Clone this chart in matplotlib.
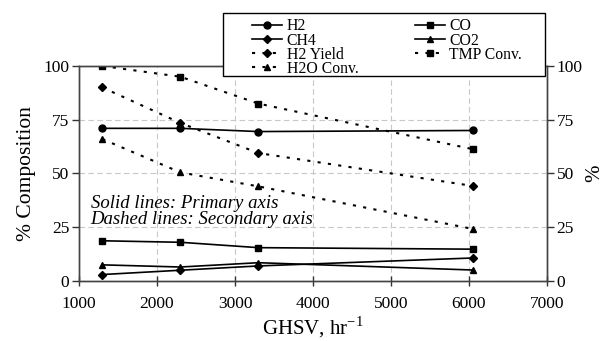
import matplotlib.pyplot as plt
from matplotlib.lines import Line2D
from matplotlib.patches import Rectangle

plt.rcParams['font.family'] = ['Liberation Serif', 'DejaVu Serif']

ghsv = [1300, 2300, 3300, 6050]

# primary axis (% composition)
h2 = [71, 71, 69.5, 70]
co = [18.7, 18, 15.5, 14.8]
ch4 = [3, 5, 7, 10.7]
co2 = [7.5, 6.5, 8.5, 5.1]

# secondary axis (%)
h2_yield = [90, 73.5, 59.5, 44.2]
tmp_conv = [100, 95, 82.5, 61.3]
h2o_conv = [66, 50.5, 44, 24.2]

dot = (0, (1.5, 3.5))

fig = plt.figure(figsize=(6.05, 3.41), dpi=100)
ax = fig.add_axes([0.1306, 0.176, 0.7735, 0.6305])
ax2 = ax.twinx()

ax.plot(ghsv, h2, color='k', lw=1.2, marker='o', ms=5)
ax.plot(ghsv, co, color='k', lw=1.2, marker='s', ms=5)
ax.plot(ghsv, ch4, color='k', lw=1.2, marker='D', ms=4)
ax.plot(ghsv, co2, color='k', lw=1.2, marker='^', ms=5)

ax2.plot(ghsv, h2_yield, color='k', lw=1.5, ls=dot, marker='D', ms=4)
ax2.plot(ghsv, tmp_conv, color='k', lw=1.5, ls=dot, marker='s', ms=5)
ax2.plot(ghsv, h2o_conv, color='k', lw=1.5, ls=dot, marker='^', ms=5)

ax.set_xlim(1000, 7000)
ax.set_ylim(0, 100)
ax2.set_ylim(0, 100)
ax.set_xticks(range(1000, 7001, 1000))
ax.set_yticks([0, 25, 50, 75, 100])
ax2.set_yticks([0, 25, 50, 75, 100])
ax.grid(True, ls=(0, (5, 3)), color='#c8c8c8', lw=0.8)
ax.set_axisbelow(True)

for a in (ax, ax2):
    a.tick_params(labelsize=12.5, length=5, width=1, colors='#333333', labelcolor='k', pad=2)
    for s in a.spines.values():
        s.set_color('#444444')
        s.set_linewidth(1)
ax.tick_params(axis='x', direction='inout', length=7, pad=7)

ax.set_xlabel('GHSV, hr$^{\\mathregular{-1}}$', fontsize=15, labelpad=2)
ax.set_ylabel('% Composition', fontsize=15.5, labelpad=5)
ax2.set_ylabel('%', fontsize=15, labelpad=2)

ax.text(1150, 36, 'Solid lines: Primary axis', style='italic', fontsize=13.5, va='center')
ax.text(1150, 28.5, 'Dashed lines: Secondary axis', style='italic', fontsize=13.5, va='center')

handles = [
    Line2D([], [], color='k', lw=1.2, marker='o', ms=5, label='H2'),
    Line2D([], [], color='k', lw=1.2, marker='D', ms=4, label='CH4'),
    Line2D([], [], color='k', lw=1.5, ls=dot, marker='D', ms=4, label='H2 Yield'),
    Line2D([], [], color='k', lw=1.5, ls=dot, marker='^', ms=5, label='H2O Conv.'),
    Line2D([], [], color='k', lw=1.2, marker='s', ms=5, label='CO'),
    Line2D([], [], color='k', lw=1.2, marker='^', ms=5, label='CO2'),
    Line2D([], [], color='k', lw=1.5, ls=dot, marker='s', ms=5, label='TMP Conv.'),
]
box = Rectangle((223 / 605, 1 - 76 / 341), 322 / 605, 63 / 341, transform=fig.transFigure,
                facecolor='white', edgecolor='k', lw=1, zorder=9)
fig.patches.append(box)
leg = fig.legend(handles=handles, ncol=2, loc='upper left',
                 bbox_to_anchor=(252 / 605, 1 - 18.5 / 341), bbox_transform=fig.transFigure,
                 fontsize=11.3, frameon=False,
                 labelspacing=-0.12, handlelength=1.9, handletextpad=0.3,
                 columnspacing=3.6, borderpad=0, borderaxespad=0)
leg.set_zorder(10)

fig.savefig('out.png', dpi=100)
